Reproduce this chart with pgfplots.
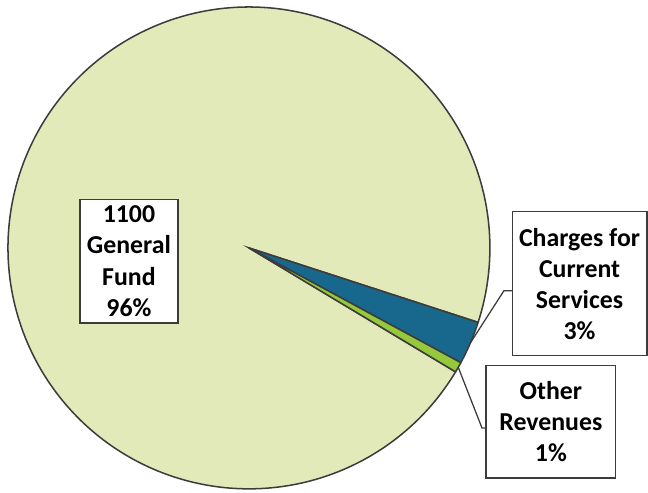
\documentclass[border=0pt]{standalone}
\usepackage{pgfplots}
\pgfplotsset{compat=1.18}
\usepackage{fontspec}
\setmainfont{Carlito}
\definecolor{gfc}{RGB}{227,234,185}
\definecolor{ccs}{RGB}{24,104,141}
\definecolor{orv}{RGB}{149,200,58}
\definecolor{edge}{RGB}{60,60,60}
% slice shares (percent)
\def\vGF{96.4}
\def\vCCS{2.9}
\def\vOR{0.7}
\def\startA{-18}
\pgfmathsetmacro{\aA}{\startA}
\pgfmathsetmacro{\aB}{\aA-3.6*\vCCS}
\pgfmathsetmacro{\aC}{\aB-3.6*\vOR}
\pgfmathsetmacro{\aD}{\aC-3.6*\vGF}
\pgfmathsetmacro{\mB}{(\aA+\aB)/2}
\pgfmathsetmacro{\mC}{(\aB+\aC)/2}
\begin{document}
\begin{tikzpicture}
\begin{axis}[
  width=9cm, height=6.847cm, scale only axis,
  hide axis, clip=false,
  xmin=-1.033, xmax=1.656, ymin=-1.017, ymax=1.029,
  every axis plot/.append style={line width=0.6pt, draw=edge},
]
\addplot[fill=gfc, domain=\aD:\aC, samples=300, variable=\t] ({cos(t)},{sin(t)}) -- (0,0) -- cycle;
\addplot[fill=ccs, domain=\aB:\aA, samples=30, variable=\t] ({cos(t)},{sin(t)}) -- (0,0) -- cycle;
\addplot[fill=orv, domain=\aC:\aB, samples=10, variable=\t] ({cos(t)},{sin(t)}) -- (0,0) -- cycle;
% leader lines
\draw[edge, line width=0.5pt] (1.091,-0.178) -- (1.058,-0.178) -- ({cos(\mB)},{sin(\mB)});
\draw[edge, line width=0.5pt] (0.983,-0.747) -- (0.967,-0.747) -- ({cos(\mC)},{sin(\mC)});
% labels
\tikzset{lbl/.style={draw=edge, line width=0.5pt, fill=white, align=center, inner sep=0pt,
  font=\bfseries\fontsize{10.2}{12.3}\selectfont}}
\node[lbl, minimum width=1.36cm, minimum height=1.72cm] at (-0.498,-0.055) {1100\\General\\Fund\\96\%};
\node[lbl, minimum width=1.87cm, minimum height=2.0cm] at (1.372,-0.149) {Charges for\\Current\\Services\\3\%};
\node[lbl, minimum width=1.8cm, minimum height=1.56cm] at (1.253,-0.722) {Other\\Revenues\\1\%};
\coordinate (bl) at (rel axis cs:0,0);
\coordinate (tr) at (rel axis cs:1,1);
\end{axis}
\pgfresetboundingbox
\path (bl) rectangle (tr);
\end{tikzpicture}
\end{document}
